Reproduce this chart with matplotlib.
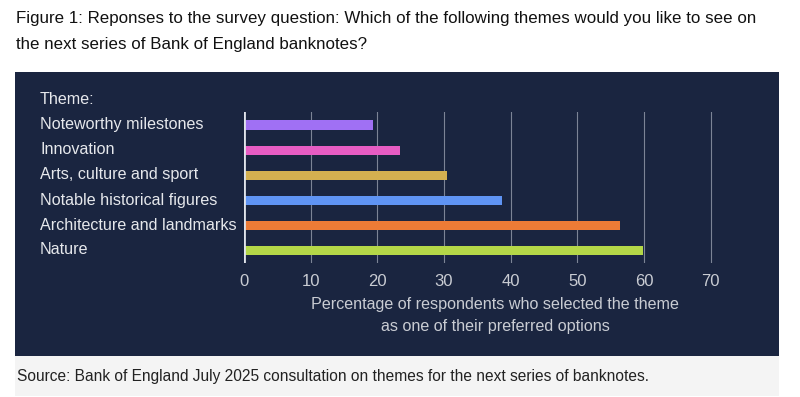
import matplotlib
matplotlib.use("Agg")
import matplotlib.pyplot as plt
import matplotlib.transforms as mtransforms
from matplotlib.patches import Rectangle

plt.rcParams["font.family"] = ["Liberation Sans", "DejaVu Sans"]

# data (top to bottom as shown)
themes = ["Noteworthy milestones", "Innovation", "Arts, culture and sport",
          "Notable historical figures", "Architecture and landmarks", "Nature"]
share = [19.3, 23.4, 30.5, 38.7, 56.4, 59.9]
colors = ["#a070f4", "#e65cc3", "#d4b050", "#5f94f4", "#ec7b36", "#b4d748"]
ticks = [0, 10, 20, 30, 40, 50, 60, 70]

NAVY = "#1a2540"
W, H = 800, 397

fig = plt.figure(figsize=(W / 100, H / 100), dpi=100)
fig.patch.set_facecolor("white")

# background panels (pixel coords -> figure fractions)
def px(x0, y0, x1, y1):
    return (x0 / W, 1 - y1 / H, (x1 - x0) / W, (y1 - y0) / H)

l, b, w, h = px(15, 72, 779, 356)
fig.add_artist(Rectangle((l, b), w, h, transform=fig.transFigure,
                         facecolor=NAVY, edgecolor="none", zorder=0))
l, b, w, h = px(15, 356, 779, 396)
fig.add_artist(Rectangle((l, b), w, h, transform=fig.transFigure,
                         facecolor="#f4f4f4", edgecolor="none", zorder=0))

fig.text(16 / W, 1 - 18 / H,
         "Figure 1: Reponses to the survey question: Which of the following themes would you like to see on",
         fontsize=12.2, color="#111111", va="center", ha="left")
fig.text(16 / W, 1 - 44 / H, "the next series of Bank of England banknotes?",
         fontsize=12.2, color="#111111", va="center", ha="left")

# 0..72 on the x scale spans pixels 244..724
ax = fig.add_axes(px(244, 112, 724, 263))
ax.set_facecolor("none")
n = len(themes)
ypos = list(range(n - 1, -1, -1))
ax.barh(ypos, share, height=0.36, color=colors, zorder=3)
ax.set_xlim(0, 72)
ax.set_ylim(-0.52, n - 0.48)
ax.set_xticks(ticks)
ax.set_xticklabels([str(t) for t in ticks])
ax.set_yticks([])
ax.tick_params(axis="x", length=0, pad=8, labelsize=12, labelcolor="#c9ccd3")
for s in ax.spines.values():
    s.set_visible(False)
for t in ticks[1:]:
    ax.axvline(t, color="#7c8496", lw=0.8, zorder=1)
ax.axvline(0, color="#dfe3ea", lw=2, zorder=4)

# category labels left-aligned in the panel
trans = mtransforms.blended_transform_factory(fig.transFigure, ax.transData)
for y, name in zip(ypos, themes):
    ax.text(40 / W, y, name, transform=trans, fontsize=11.6, color="#e6e8ec",
            va="center", ha="left", clip_on=False)
ax.text(40 / W, n, "Theme:", transform=trans, fontsize=11.6, color="#e6e8ec",
        va="center", ha="left", clip_on=False)

fig.text(495 / W, 1 - 305 / H, "Percentage of respondents who selected the theme",
         fontsize=11.6, color="#c9ccd3", ha="center", va="center")
fig.text(495 / W, 1 - 326 / H, "as one of their preferred options",
         fontsize=11.6, color="#c9ccd3", ha="center", va="center")

fig.text(17 / W, 1 - 377 / H,
         "Source: Bank of England July 2025 consultation on themes for the next series of banknotes.",
         fontsize=11.2, color="#222222", ha="left", va="center")

fig.savefig("out.png", dpi=100, facecolor=fig.get_facecolor())
